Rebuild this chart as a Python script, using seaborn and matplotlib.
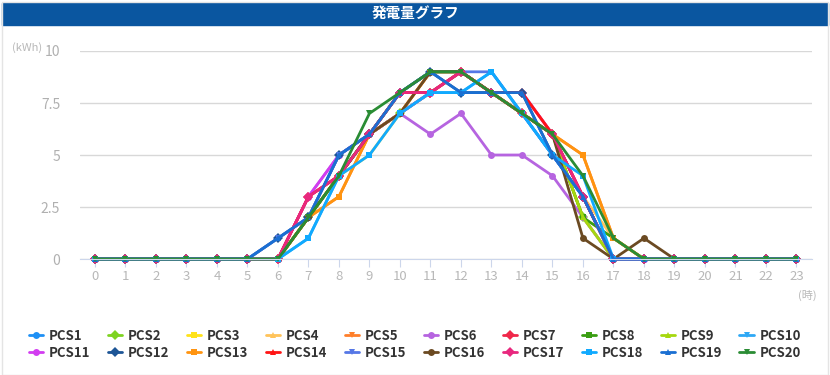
import numpy as np
import pandas as pd
import seaborn as sns
import matplotlib.pyplot as plt
from matplotlib.patches import Rectangle

# hourly generation per PCS (kWh), hours 0..23
hours = list(range(24))
names = ['PCS%d' % i for i in range(1, 21)]

def day(vals):
    # vals start at hour 6
    out = [0] * 24
    for i, v in enumerate(vals):
        out[6 + i] = v
    return out

pcs1 = day([0, 2, 4, 6, 7, 8, 9, 8, 7, 5, 3, 0])
pcs2 = day([0, 2, 4, 6, 7, 8, 9, 8, 7, 6, 2, 0])
pcs3 = day([0, 2, 4, 5, 7, 8, 9, 8, 7, 6, 2, 0])
pcs4 = day([0, 2, 4, 6, 7, 9, 9, 8, 7, 6, 3, 1, 0])
pcs5 = day([0, 2, 3, 6, 7, 9, 9, 8, 7, 6, 5, 1, 0])
pcs6 = day([0, 3, 5, 6, 7, 6, 7, 5, 5, 4, 2, 0])
pcs7 = day([0, 3, 4, 6, 8, 8, 9, 8, 8, 6, 3, 0])
pcs8 = day([0, 2, 4, 6, 8, 9, 9, 8, 7, 6, 2, 1, 0])
pcs9 = day([0, 2, 4, 6, 8, 9, 9, 8, 7, 6, 2, 0])
pcs10 = day([0, 1, 4, 6, 7, 8, 8, 9, 7, 5, 3, 0])
pcs11 = day([0, 3, 5, 6, 7, 8, 9, 8, 8, 6, 3, 0])
pcs12 = day([1, 2, 5, 6, 8, 9, 8, 8, 8, 5, 3, 0])
pcs13 = day([0, 2, 3, 6, 7, 9, 9, 8, 7, 6, 5, 1, 0])
pcs14 = day([0, 3, 4, 6, 8, 8, 9, 8, 8, 6, 3, 0])
pcs15 = day([1, 2, 5, 6, 8, 9, 9, 9, 7, 5, 3, 0])
pcs16 = day([0, 2, 4, 6, 7, 9, 9, 8, 7, 6, 1, 0, 1, 0])
pcs17 = day([0, 3, 4, 6, 8, 8, 9, 8, 7, 6, 3, 0])
pcs18 = day([0, 1, 4, 5, 7, 8, 8, 9, 7, 5, 4, 0])
pcs19 = day([1, 2, 5, 6, 8, 9, 8, 8, 8, 5, 3, 0])
pcs20 = day([0, 2, 4, 7, 8, 9, 9, 8, 7, 6, 4, 1, 0])

series = [pcs1, pcs2, pcs3, pcs4, pcs5, pcs6, pcs7, pcs8, pcs9, pcs10,
          pcs11, pcs12, pcs13, pcs14, pcs15, pcs16, pcs17, pcs18, pcs19, pcs20]

colors = ['#1e90f5', '#7ed321', '#ffe21a', '#ffc35a', '#ff7f2a',
          '#b664e0', '#f0284a', '#3a9e12', '#a6d80e', '#2ea8f5',
          '#d23cf0', '#1d5596', '#ff9410', '#ff1414', '#5577e6',
          '#6b4a22', '#e8287e', '#10aaff', '#1a6fd2', '#2a8c34']
marks = ['o', 'D', 's', '^', 'v'] * 4

rows = []
for n, s in zip(names, series):
    for h, v in zip(hours, s):
        rows.append((n, h, v))
df = pd.DataFrame(rows, columns=['pcs', 'hour', 'kwh'])

sns.set_style('white')
plt.rcParams['font.family'] = ['Noto Sans CJK JP', 'DejaVu Sans']

fig = plt.figure(figsize=(8.3, 3.75), dpi=100)
ax = fig.add_axes([0.096, 0.3093, 0.882, 0.5547])

sns.lineplot(data=df, x='hour', y='kwh', hue='pcs', style='pcs',
             palette=dict(zip(names, colors)), markers=dict(zip(names, marks)),
             dashes=False, linewidth=2.0, markersize=5, markeredgewidth=0,
             ax=ax, legend=True)
for ln in ax.lines:
    ln.set_clip_on(False)

ax.set_xlim(-0.5, 23.5)
ax.set_ylim(0, 10)
ax.set_yticks([0, 2.5, 5, 7.5, 10])
ax.set_yticklabels(['0', '2.5', '5', '7.5', '10'])
ax.set_xticks(hours)
ax.grid(axis='y', color='#d8d8d8', linewidth=1)
ax.grid(axis='x', visible=False)
for sp in ['top', 'right', 'left']:
    ax.spines[sp].set_visible(False)
ax.spines['bottom'].set_color('#ccd6eb')
ax.tick_params(axis='y', length=0, labelsize=10, labelcolor='#b0b0b0', pad=14)
ax.tick_params(axis='x', length=6, color='#ccd6eb', direction='out',
               labelsize=9.5, labelcolor='#b8b8b8', pad=2, bottom=True)
ax.set_xlabel('')
ax.set_ylabel('')
ax.set_axisbelow(True)

# legend: rows PCS1-10 / PCS11-20 (matplotlib fills column-wise)
h, l = ax.get_legend_handles_labels()
ax.get_legend().remove()
order = []
for i in range(10):
    order += [i, i + 10]
leg = fig.legend([h[i] for i in order], [l[i] for i in order], ncol=10,
                 loc='center', bbox_to_anchor=(0.5, 0.082), frameon=False,
                 fontsize=9.5, handlelength=1.1, handletextpad=0.45,
                 columnspacing=1.3, labelspacing=0.25)
for t in leg.get_texts():
    t.set_color('#333333')
    t.set_fontweight('bold')

# title bar and unit labels
fig.patches.append(Rectangle((0.003, 0.933), 0.994, 0.06, transform=fig.transFigure,
                             color='#0a56a0', zorder=0))
fig.text(0.5, 0.965, '発電量グラフ', color='white', fontsize=10.5,
         fontweight='bold', ha='center', va='center')
fig.text(0.014, 0.872, '(kWh)', color='#b8b8b8', fontsize=8, va='center')
fig.text(0.962, 0.212, '(時)', color='#b8b8b8', fontsize=8, va='center')
fig.patches.append(Rectangle((0.002, 0.0), 0.996, 0.995, transform=fig.transFigure,
                             fill=False, edgecolor='#e4e4e4', linewidth=1))

fig.savefig('out.png', dpi=100)
